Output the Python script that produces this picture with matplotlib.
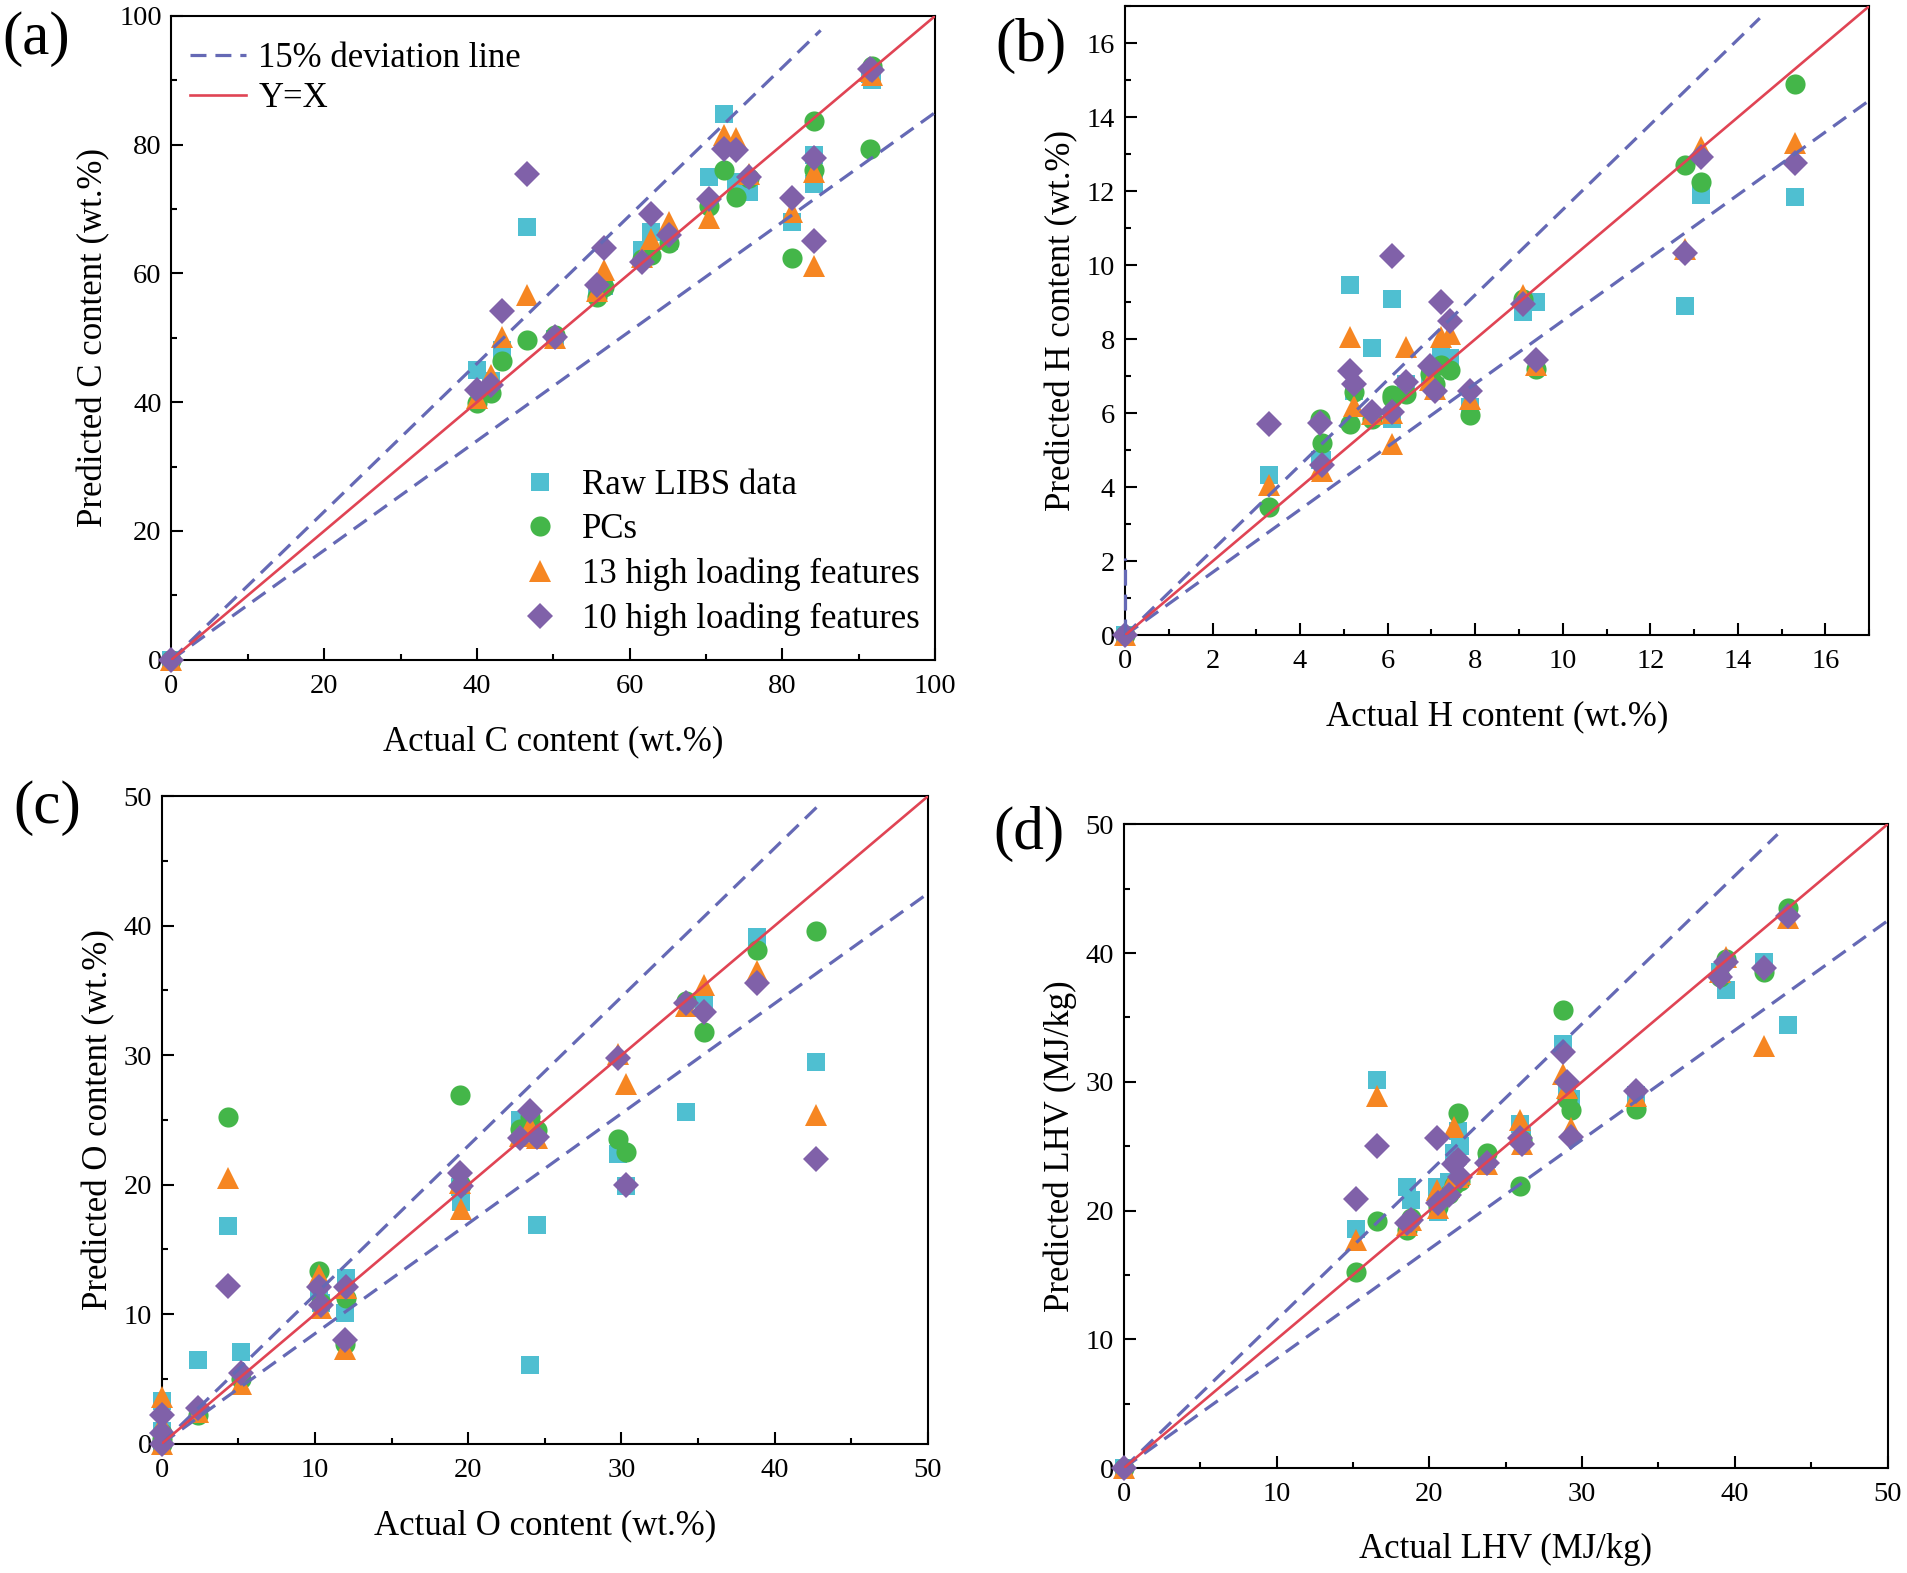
import matplotlib
matplotlib.use('Agg')
import matplotlib.pyplot as plt
from matplotlib.ticker import MultipleLocator

plt.rcParams['font.family'] = ['Liberation Serif', 'DejaVu Serif']

# ---- (a) C content ----
c_actual = [0, 40.0, 41.9, 43.3, 46.6, 50.2, 55.7, 56.7, 61.6, 62.8, 65.2, 70.4, 72.4, 73.9, 75.6, 81.3, 84.1, 84.1, 91.7, 91.5]
c_raw = [0, 45.0, 43.3, 48.1, 67.2, 49.8, 57.0, 58.0, 63.6, 66.5, 65.0, 75.0, 84.8, 74.2, 72.7, 68.0, 78.4, 73.9, 90.0, 91.0]
c_pcs = [0, 39.8, 41.5, 46.4, 49.7, 50.4, 56.4, 57.9, 62.2, 62.9, 64.7, 70.4, 76.1, 71.8, 74.8, 62.4, 83.7, 76.0, 92.2, 79.4]
c_f13 = [0, 40.7, 44.2, 50.2, 56.6, 50.0, 57.2, 60.5, 62.5, 65.4, 68.0, 68.6, 81.5, 81.0, 75.4, 69.6, 75.8, 61.2, 90.8, 91.5]
c_f10 = [0, 41.9, 42.7, 54.2, 75.4, 50.2, 58.2, 63.9, 61.8, 69.2, 66.0, 71.5, 79.4, 79.1, 75.0, 71.7, 77.9, 65.0, 91.6, 91.8]

# ---- (b) H content ----
h_actual = [0, 3.3, 4.45, 4.5, 5.13, 5.24, 5.64, 6.1, 6.1, 6.42, 6.97, 7.09, 7.21, 7.42, 7.88, 9.1, 9.4, 12.8, 13.15, 15.3]
h_raw = [0, 4.32, 4.75, 4.75, 9.46, 6.6, 7.75, 9.08, 5.85, 6.8, 7.0, 6.7, 7.6, 7.48, 6.17, 8.74, 9.01, 8.9, 11.9, 11.83]
h_pcs = [0, 3.46, 5.85, 5.2, 5.72, 6.57, 5.85, 6.4, 6.48, 6.53, 7.07, 6.8, 7.3, 7.16, 5.94, 9.1, 7.2, 12.71, 12.26, 14.9]
h_f13 = [0, 4.05, 4.5, 4.45, 8.06, 6.2, 5.99, 5.18, 6.0, 7.79, 6.9, 6.66, 8.06, 8.15, 6.39, 9.19, 7.3, 10.45, 13.2, 13.29]
h_f10 = [0, 5.7, 5.75, 4.6, 7.13, 6.8, 6.03, 10.25, 6.03, 6.85, 7.28, 6.59, 9.0, 8.49, 6.59, 8.95, 7.43, 10.32, 12.93, 12.75]

# ---- (c) O content ----
o_actual = [0, 0, 0, 2.35, 4.3, 5.15, 10.25, 10.4, 12.0, 11.95, 19.45, 19.5, 23.35, 24.0, 24.5, 29.8, 30.3, 34.2, 35.4, 38.85, 42.7]
o_raw = [0, 3.3, 1.0, 6.5, 16.8, 7.06, 11.8, 10.9, 12.8, 10.1, 19.8, 18.7, 25.0, 6.1, 16.9, 22.4, 19.9, 25.6, 34.0, 39.1, 29.5]
o_pcs = [0, 0.8, 0.4, 2.24, 25.2, 5.0, 13.3, 10.9, 11.25, 7.7, 26.9, 20.0, 24.3, 25.2, 24.2, 23.5, 22.5, 34.2, 31.8, 38.1, 39.6]
o_f13 = [0, 3.6, 1.5, 2.43, 20.5, 4.59, 13.0, 10.5, 12.0, 7.33, 20.1, 18.1, 23.8, 24.5, 23.6, 30.1, 27.8, 33.8, 35.4, 36.5, 25.4]
o_f10 = [0, 2.2, 0.8, 2.75, 12.2, 5.45, 12.1, 10.7, 12.1, 8.04, 20.9, 19.9, 23.6, 25.7, 23.7, 29.8, 20.0, 34.0, 33.3, 35.6, 22.0]

# ---- (d) LHV ----
lhv_actual = [0, 15.2, 16.6, 18.55, 18.8, 20.5, 20.6, 21.3, 21.6, 21.9, 22.0, 23.75, 25.96, 26.1, 28.75, 29.0, 29.3, 33.55, 39.0, 39.4, 41.9, 43.5]
lhv_raw = [0, 18.6, 30.1, 21.8, 20.8, 21.8, 19.9, 22.2, 24.5, 26.2, 25.0, 24.0, 26.7, 25.8, 32.9, 29.5, 28.7, 29.0, 38.5, 37.1, 39.3, 34.4]
lhv_pcs = [0, 15.25, 19.2, 18.5, 19.4, 20.8, 20.3, 21.3, 22.0, 27.6, 22.3, 24.5, 21.9, 25.5, 35.6, 28.7, 27.8, 27.9, 38.1, 39.5, 38.5, 43.5]
lhv_f13 = [0, 17.7, 28.9, 18.9, 19.3, 21.6, 20.2, 21.8, 26.5, 22.6, 22.8, 23.6, 27.0, 25.2, 30.6, 29.5, 26.4, 28.9, 38.5, 39.7, 32.8, 42.7]
lhv_f10 = [0, 20.86, 25.0, 19.0, 19.3, 25.6, 20.6, 21.2, 23.6, 23.9, 22.6, 23.7, 25.6, 25.2, 32.3, 30.0, 25.7, 29.3, 38.1, 39.3, 38.8, 42.9]

series_labels = ['Raw LIBS data', 'PCs', '13 high loading features', '10 high loading features']
colors = ['#4FBFD1', '#44B649', '#F68622', '#8061A9']
markers = ['s', 'o', '^', 'D']
msizes = [13.5, 14.5, 15.5, 13]
dev_color = '#6569B5'
yx_color = '#E04454'
dash = (0, (5, 2.8))

panels = [
    dict(pos=[0.0899, 0.5806, 0.4005, 0.4093], lim=100, major=20, minor=10, upper_end=85,
         x=c_actual, ys=[c_raw, c_pcs, c_f13, c_f10], tag='(a)', tag_xy=(0.001, 0.975),
         xlabel='Actual C content (wt.%)', ylabel='Predicted C content (wt.%)'),
    dict(pos=[0.5899, 0.5961, 0.3903, 0.4000], lim=17, major=2, minor=1, upper_end=14.5,
         x=h_actual, ys=[h_raw, h_pcs, h_f13, h_f10], tag='(b)', tag_xy=(0.522, 0.971),
         xlabel='Actual H content (wt.%)', ylabel='Predicted H content (wt.%)'),
    dict(pos=[0.0848, 0.0822, 0.4018, 0.4116], lim=50, major=10, minor=5, upper_end=43,
         x=o_actual, ys=[o_raw, o_pcs, o_f13, o_f10], tag='(c)', tag_xy=(0.007, 0.486),
         xlabel='Actual O content (wt.%)', ylabel='Predicted O content (wt.%)'),
    dict(pos=[0.5893, 0.0667, 0.4005, 0.4093], lim=50, major=10, minor=5, upper_end=42.8,
         x=lhv_actual, ys=[lhv_raw, lhv_pcs, lhv_f13, lhv_f10], tag='(d)', tag_xy=(0.521, 0.470),
         xlabel='Actual LHV (MJ/kg)', ylabel='Predicted LHV (MJ/kg)'),
]

fig = plt.figure(figsize=(19.07, 15.73), dpi=100)

for i, p in enumerate(panels):
    ax = fig.add_axes(p['pos'])
    lim = p['lim']

    # 散点
    pts = []
    for ys, lab, col, mk, ms in zip(p['ys'], series_labels, colors, markers, msizes):
        h, = ax.plot(p['x'], ys, ls='none', marker=mk, ms=ms, color=col,
                     mew=0, label=lab, clip_on=False, zorder=3)
        pts.append(h)

    # 15% 偏差线 + Y=X
    dev, = ax.plot([0, p['upper_end']], [0, 1.15 * p['upper_end']], color=dev_color,
                   lw=2.3, ls=dash, zorder=4, label='15% deviation line')
    ax.plot([0, lim], [0, 0.85 * lim], color=dev_color, lw=2.3, ls=dash, zorder=4)
    yx, = ax.plot([0, lim], [0, lim], color=yx_color, lw=1.9, zorder=5, label='Y=X')
    if i == 1:
        ax.plot([0, 0], [0, 2.1], color=dev_color, lw=2.3, ls=dash,
                zorder=4, clip_on=False)

    ax.set_xlim(0, lim)
    ax.set_ylim(0, lim)
    ax.xaxis.set_major_locator(MultipleLocator(p['major']))
    ax.yaxis.set_major_locator(MultipleLocator(p['major']))
    ax.xaxis.set_minor_locator(MultipleLocator(p['minor']))
    ax.yaxis.set_minor_locator(MultipleLocator(p['minor']))
    ax.tick_params(which='both', direction='in', top=False, right=False,
                   labelsize=20.5, width=1.5)
    ax.tick_params(axis='x', which='both', pad=10)
    ax.tick_params(axis='y', which='both', pad=7)
    ax.tick_params(which='major', length=8.5)
    ax.tick_params(which='minor', length=4.2)
    for s in ax.spines.values():
        s.set_linewidth(1.5)

    ax.set_xlabel(p['xlabel'], fontsize=25, labelpad=19)
    ax.set_ylabel(p['ylabel'], fontsize=25, labelpad=6)
    fig.text(p['tag_xy'][0], p['tag_xy'][1], p['tag'], fontsize=44,
             ha='left', va='center')

    if i == 0:
        leg1 = ax.legend(handles=[dev, yx], loc='upper left', bbox_to_anchor=(-0.016, 1.008),
                         frameon=False, fontsize=25, handlelength=1.6,
                         handletextpad=0.35, labelspacing=0.2)
        ax.add_artist(leg1)
        ax.legend(handles=pts, loc='lower left', bbox_to_anchor=(0.415, -0.012),
                  frameon=False, fontsize=25, handlelength=1.2,
                  handletextpad=0.6, labelspacing=0.33, numpoints=1)

fig.savefig('out.png', dpi=100)
